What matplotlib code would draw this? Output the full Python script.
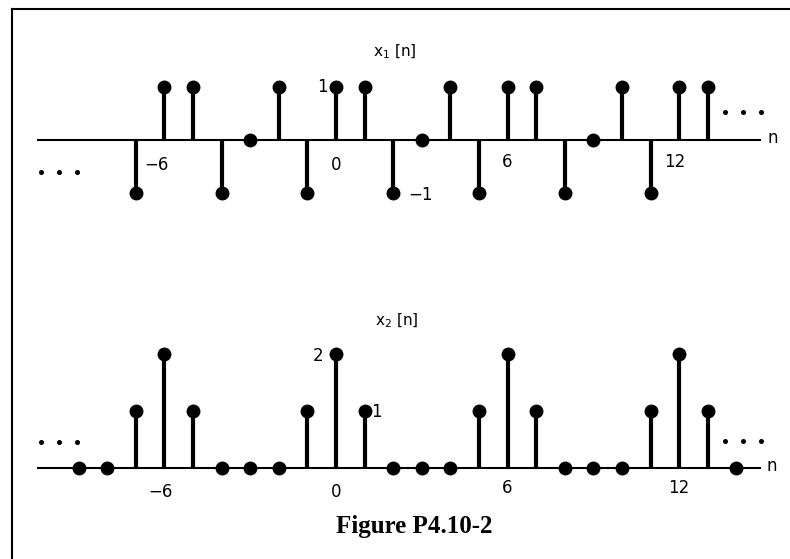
import numpy as np
import matplotlib
matplotlib.use("Agg")
import matplotlib.pyplot as plt

# x1[n]: period 6, values for n = 0..5
n1 = np.arange(-7, 14)
x1_period = [1, 1, -1, 0, 1, -1]
x1 = np.array([x1_period[k % 6] for k in n1])

# x2[n]: period 6
n2 = np.arange(-9, 15)
x2_period = [2, 1, 0, 0, 0, 1]
x2 = np.array([x2_period[k % 6] for k in n2])

W, H = 790, 559
fig = plt.figure(figsize=(W / 100, H / 100), dpi=100)
fig.patch.set_facecolor("white")

# pixel mapping helpers
n0_px, dn_px = 336, 28.6
xlim = (-n0_px / dn_px, (W - n0_px) / dn_px)


def make_axes(top_px, bot_px, axis_px, unit_px):
    ax = fig.add_axes([0, 1 - bot_px / H, 1, (bot_px - top_px) / H])
    ax.set_xlim(*xlim)
    ax.set_ylim((axis_px - bot_px) / unit_px, (axis_px - top_px) / unit_px)
    ax.axis("off")
    return ax


def px(x):
    return (x - n0_px) / dn_px


def stems(ax, n, x):
    ax.plot([px(38), px(760)], [0, 0], color="black", lw=1.5, zorder=1)
    ax.vlines(n, 0, x, color="black", lw=3.0, zorder=2)
    ax.plot(n, x, "o", color="black", ms=9, zorder=3)


def ellipsis(ax, x_px, y):
    xs = [px(x_px - 18), px(x_px), px(x_px + 18)]
    ax.plot(xs, [y] * 3, "o", color="black", ms=2.6, zorder=3)


fs = 12
# ---- top: x1[n]
ax1 = make_axes(30, 230, 140, 53)
stems(ax1, n1, x1)
u1 = 53
ax1.text(px(395), (140 - 52) / u1, "x$_1$ [n]", ha="center", va="center", fontsize=11)
ax1.text(px(156), -0.47, "\u22126", ha="center", va="center", fontsize=fs)
ax1.text(0, -0.47, "0", ha="center", va="center", fontsize=fs)
ax1.text(6, -0.42, "6", ha="center", va="center", fontsize=fs)
ax1.text(px(675), -0.42, "12", ha="center", va="center", fontsize=fs)
ax1.text(px(322), 1.0, "1", ha="center", va="center", fontsize=fs)
ax1.text(px(420), -1.03, "\u22121", ha="center", va="center", fontsize=fs)
ax1.text(px(773), 0.03, "n", ha="center", va="center", fontsize=fs)
ellipsis(ax1, 59, (140 - 172) / u1)
ellipsis(ax1, 743, (140 - 112) / u1)

# ---- bottom: x2[n]
ax2 = make_axes(250, 545, 468, 57)
stems(ax2, n2, x2)
u2 = 57
ax2.text(px(397), (468 - 321) / u2, "x$_2$ [n]", ha="center", va="center", fontsize=11)
ax2.text(px(160), -0.42, "\u22126", ha="center", va="center", fontsize=fs)
ax2.text(0, -0.42, "0", ha="center", va="center", fontsize=fs)
ax2.text(6, -0.35, "6", ha="center", va="center", fontsize=fs)
ax2.text(12, -0.35, "12", ha="center", va="center", fontsize=fs)
ax2.text(px(318), 1.96, "2", ha="center", va="center", fontsize=fs)
ax2.text(px(376), 0.98, "1", ha="center", va="center", fontsize=fs)
ax2.text(px(772), 0.03, "n", ha="center", va="center", fontsize=fs)
ellipsis(ax2, 59, (468 - 442) / u2)
ellipsis(ax2, 743, (468 - 441) / u2)

# frame lines (top and left only)
fig.add_artist(plt.Line2D([12 / W, 1], [1 - 9 / H, 1 - 9 / H], color="black", lw=1.5))
fig.add_artist(plt.Line2D([12 / W, 12 / W], [0, 1 - 9 / H], color="black", lw=1.5))

fig.text(414 / W, 1 - 527 / H, "Figure P4.10-2", ha="center", va="center",
         fontsize=18, fontweight="bold", family="Liberation Serif")

fig.savefig("out.png", dpi=100, facecolor="white")
